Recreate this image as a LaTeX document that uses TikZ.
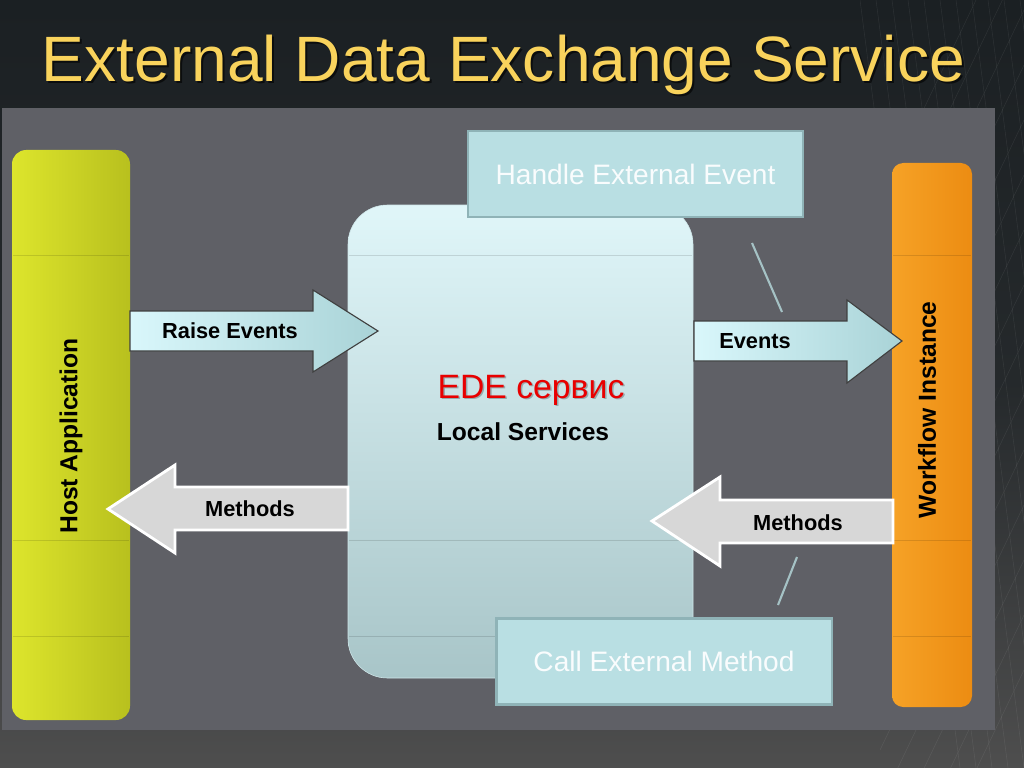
\documentclass[tikz,border=0pt]{standalone}
\usepackage{fontspec}
\setmainfont{Liberation Sans}
\usepackage{tikz}
\usetikzlibrary{positioning}
\definecolor{bgTop}{HTML}{1B2023}
\definecolor{bgBot}{HTML}{4E4E4E}
\definecolor{panelGray}{HTML}{5F6066}
\definecolor{titleGold}{HTML}{F9D35C}
\definecolor{hostL}{HTML}{DDE52C}
\definecolor{hostR}{HTML}{B8C01E}
\definecolor{wfL}{HTML}{F6A226}
\definecolor{wfR}{HTML}{EC8C12}
\definecolor{edeTop}{HTML}{E0F6F9}
\definecolor{edeBot}{HTML}{A8C5C8}
\definecolor{callFill}{HTML}{B9DFE3}
\definecolor{callDraw}{HTML}{8FB3B7}
\definecolor{evL}{HTML}{D9F7FB}
\definecolor{evR}{HTML}{A9D3D7}
\definecolor{methFill}{HTML}{D7D7D7}
\definecolor{edeRed}{HTML}{E80000}
\tikzstyle{callout} = [fill = callFill, draw = callDraw, line width = 1.5pt, text = white!92!callFill, minimum width = 8.375cm, minimum height = 2.15cm, font = \fontsize{20}{24}\selectfont]
\tikzstyle{evarrow} = [draw = black!75, line width = 0.8pt, left color = evL, right color = evR, line join = miter]
\tikzstyle{metharrow} = [draw = white, line width = 2pt, fill = methFill, line join = miter]
\tikzstyle{lbl} = [font = \fontsize{15.5}{18}\selectfont\bfseries, text = black]
\tikzstyle{barlbl} = [font = \fontsize{17.5}{20}\selectfont\bfseries, text = black, rotate = 90]
\tikzstyle{pointer} = [draw = callDraw!80!white, line width = 1.5pt]
\tikzstyle{gridline} = [black, opacity = 0.12, line width = 0.6pt]

\begin{document}
\begin{tikzpicture}[x = 0.025cm, y = -0.025cm]
		% Фон слайда
		\shade[top color = bgTop, bottom color = bgBot, middle color = bgTop!80!bgBot] (0, 0) rectangle (1024, 768);
		\useasboundingbox (0, 0) rectangle (1024, 768);
		% Сетка справа
		\begin{scope}
			\clip (860, 0) rectangle (1024, 768);
			\foreach \i in {0, ..., 12}
				\draw[white, opacity = 0.07] (860 + \i*16, 0) -- (960 + \i*16, 768);
			\foreach \i in {0, ..., 14}
				\draw[white, opacity = 0.07] (1024, \i*55 - 100) -- (880, \i*55 + 200);
		\end{scope}
		% Заголовок
		\tikzstyle{title} = [anchor = base, font = \fontsize{45.6}{50}\selectfont]
		\node[title, text = black, opacity = 0.6] (titleShadow) at (505.5, 84) {External Data Exchange Service};
		\node[title, text = titleGold] (title) at (503.5, 82) {External Data Exchange Service};
		% Панель
		\fill[panelGray] (2, 108) rectangle (995, 730);
		% Host Application
		\shade[left color = hostL, right color = hostR, rounded corners = 10pt] (12, 150) rectangle (130, 720);
		% Workflow Instance
		\shade[left color = wfL, right color = wfR, rounded corners = 8pt] (892, 163) rectangle (972, 707);
		% EDE сервис
		\shade[top color = edeTop, bottom color = edeBot, draw = edeTop!70!edeBot, rounded corners = 28pt] (348, 205) rectangle (693, 678);
		% Линии таблицы
		\foreach \y in {255, 540, 636} {
			\draw[gridline] (13, \y) -- (129, \y);
			\draw[gridline] (349, \y) -- (692, \y);
			\draw[gridline] (893, \y) -- (971, \y);
		}
		\node[barlbl] (host) at (71, 436) {Host Application};
		\node[barlbl] (workflow) at (927, 410) {Workflow Instance};
		\node[anchor = base, text = black, opacity = 0.25, font = \fontsize{24}{28}\selectfont] (edeShadow) at (532.5, 399.5) {EDE сервис};
		\node[anchor = base, text = edeRed, font = \fontsize{24}{28}\selectfont] (ede) at (531, 398) {EDE сервис};
		\node[below = 0.2cm of ede, xshift = -0.2cm, font = \fontsize{17.5}{20}\selectfont\bfseries] (local) {Local Services};
		% Выноски
		\node[callout] (handle) at (635.5, 174) {Handle External Event};
		\node[callout] (call) at (664, 661.5) {Call External Method};
		\coordinate (hTip) at (752, 243);
		\coordinate (hEnd) at (782, 312);
		\coordinate (cTip) at (797, 557);
		\coordinate (cEnd) at (778, 605);
		\draw[pointer] (hTip) -- (hEnd);
		\draw[pointer] (cTip) -- (cEnd);
		% Стрелки
		\draw[evarrow] (130, 311) -- (313, 311) -- (313, 290) -- (378, 331) -- (313, 372) -- (313, 351) -- (130, 351) -- cycle;
		\draw[evarrow] (694, 321) -- (847, 321) -- (847, 300) -- (902, 341) -- (847, 383) -- (847, 361) -- (694, 361) -- cycle;
		\draw[metharrow] (348, 487) -- (175, 487) -- (175, 465) -- (108, 509) -- (175, 553) -- (175, 530) -- (348, 530) -- cycle;
		\draw[metharrow] (893, 500) -- (720, 500) -- (720, 477) -- (652, 521) -- (720, 566) -- (720, 543) -- (893, 543) -- cycle;
		\node[lbl] (raise) at (230, 331) {Raise Events};
		\node[lbl] (events) at (755, 341) {Events};
		\node[lbl] (methL) at (250, 509) {Methods};
		\node[lbl] (methR) at (798, 523) {Methods};
	\end{tikzpicture}
\end{document}
